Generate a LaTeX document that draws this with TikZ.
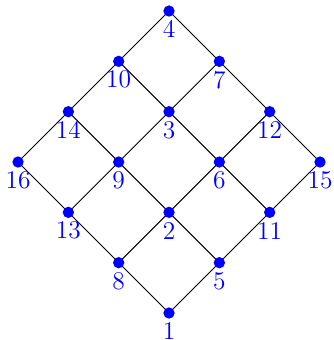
\documentclass[tikz,border=0pt]{standalone}
\begin{document}
\begin{tikzpicture}[
  dot/.style={circle,fill=blue,inner sep=0pt,minimum size=0.225cm},
  lab/.style={text=blue,font=\Large,inner sep=0pt},
  edge/.style={draw=black,line width=0.55pt}]
\useasboundingbox (-0.358,-0.536) rectangle (6.259,6.219);
% grid coordinates (a,b): x = 3+a-b, y = a+b
\foreach \n/\a/\b in {1/0/0,5/1/0,11/2/0,15/3/0,8/0/1,2/1/1,6/2/1,12/3/1,13/0/2,9/1/2,3/2/2,7/3/2,16/0/3,14/1/3,10/2/3,4/3/3}{
  \coordinate (p\a\b) at ({3+\a-\b},{\a+\b});
}
\foreach \a in {0,...,3}{
  \foreach \b [evaluate=\b as \bn using int(\b+1)] in {0,1,2}{
    \draw[edge] (p\a\b) -- (p\a\bn);
    \draw[edge] (p\b\a) -- (p\bn\a);
  }
}
\foreach \n/\a/\b in {1/0/0,5/1/0,11/2/0,15/3/0,8/0/1,2/1/1,6/2/1,12/3/1,13/0/2,9/1/2,3/2/2,7/3/2,16/0/3,14/1/3,10/2/3,4/3/3}{
  \node[dot] (d\n) at (p\a\b) {};
  \node[lab] (l\n) at ([yshift=-0.365cm]p\a\b) {\n};
}
\end{tikzpicture}
\end{document}
